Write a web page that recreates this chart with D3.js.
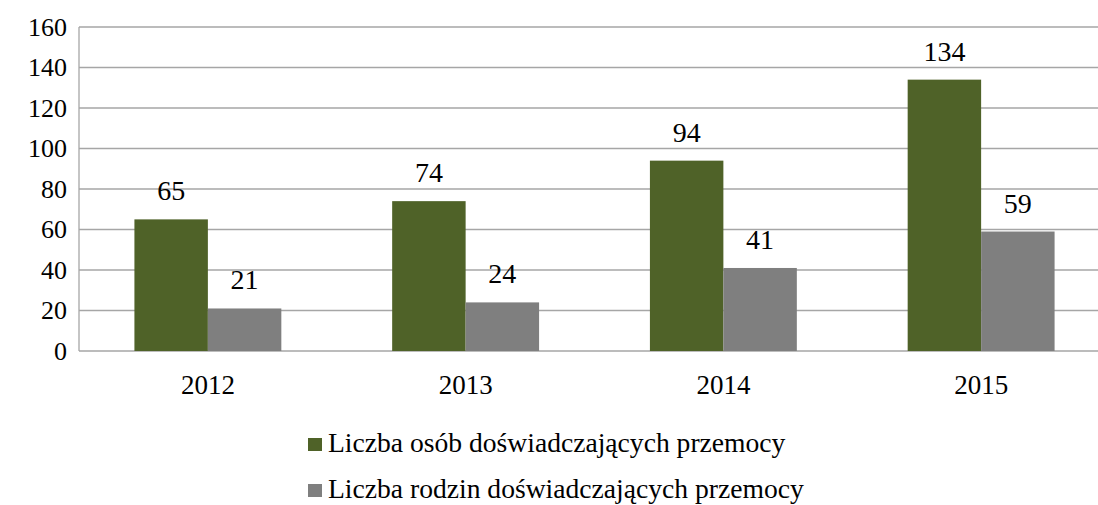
<!DOCTYPE html>
<html>
<head>
<meta charset="utf-8">
<script src="https://cdn.jsdelivr.net/npm/d3@7"></script>
<style>
  body { margin: 0; background: #fff; }
  text { font-family: "Liberation Serif", "Times New Roman", serif; fill: #000; }
</style>
</head>
<body>
<div id="chart"></div>
<script>
var years = ['2012', '2013', '2014', '2015'];
var seriesNames = ['Liczba osób doświadczających przemocy', 'Liczba rodzin doświadczających przemocy'];
var persons = [65, 74, 94, 134];
var families = [21, 24, 41, 59];
var yTicks = [0, 20, 40, 60, 80, 100, 120, 140, 160];
var colors = ['#4f6228', '#7f7f7f'];

var width = 1098, height = 505;
var plotLeft = 79, plotRight = 1110, plotTop = 27, plotBottom = 351;

var svg = d3.select('#chart')
    .append('svg')
    .attr('width', width)
    .attr('height', height);

var x = d3.scaleBand()
    .domain(years)
    .range([plotLeft, plotRight])
    .paddingInner(0.43)
    .paddingOuter(0.215);

var x1 = d3.scaleBand()
    .domain([0, 1])
    .range([0, x.bandwidth()]);

var y = d3.scaleLinear()
    .domain([0, 160])
    .range([plotBottom, plotTop]);

// gridlines
svg.append('g')
    .selectAll('line')
    .data(yTicks)
    .join('line')
    .attr('x1', plotLeft)
    .attr('x2', width)
    .attr('y1', d => y(d))
    .attr('y2', d => y(d))
    .attr('stroke', '#a6a6a6')
    .attr('stroke-width', 1.3);

// left axis line
svg.append('line')
    .attr('x1', plotLeft).attr('x2', plotLeft)
    .attr('y1', plotTop).attr('y2', plotBottom)
    .attr('stroke', '#a6a6a6')
    .attr('stroke-width', 1.3);

// y tick labels
var yAxis = svg.append('g')
    .attr('transform', `translate(${plotLeft},0)`)
    .call(d3.axisLeft(y).tickValues(yTicks).tickSize(0).tickPadding(12));
yAxis.select('.domain').remove();
yAxis.selectAll('text')
    .style('font-family', '"Liberation Serif", serif')
    .style('font-size', '26px')
    .attr('fill', '#000');

// x tick labels
var xAxis = svg.append('g')
    .attr('transform', `translate(0,${plotBottom})`)
    .call(d3.axisBottom(x).tickSize(0).tickPadding(24));
xAxis.select('.domain').remove();
xAxis.selectAll('text')
    .style('font-family', '"Liberation Serif", serif')
    .style('font-size', '27px')
    .attr('fill', '#000');

var series = [persons, families];

series.forEach(function(vals, s) {
    var g = svg.append('g');
    g.selectAll('rect')
        .data(vals)
        .join('rect')
        .attr('x', (d, i) => x(years[i]) + x1(s))
        .attr('y', d => y(d))
        .attr('width', x1.bandwidth())
        .attr('height', d => y(0) - y(d))
        .attr('fill', colors[s]);

    g.selectAll('text')
        .data(vals)
        .join('text')
        .attr('x', (d, i) => x(years[i]) + x1(s) + x1.bandwidth() / 2)
        .attr('y', d => y(d) - 19)
        .attr('text-anchor', 'middle')
        .style('font-size', '28px')
        .text(d => d);
});

// legend
var legend = svg.append('g').attr('transform', 'translate(308,0)');
seriesNames.forEach(function(name, i) {
    var ly = 452 + i * 46;
    legend.append('rect')
        .attr('x', 0)
        .attr('y', ly - 14)
        .attr('width', 14)
        .attr('height', 13)
        .attr('fill', colors[i]);
    legend.append('text')
        .attr('x', 20)
        .attr('y', ly)
        .style('font-size', '27.6px')
        .text(name);
});
</script>
</body>
</html>
